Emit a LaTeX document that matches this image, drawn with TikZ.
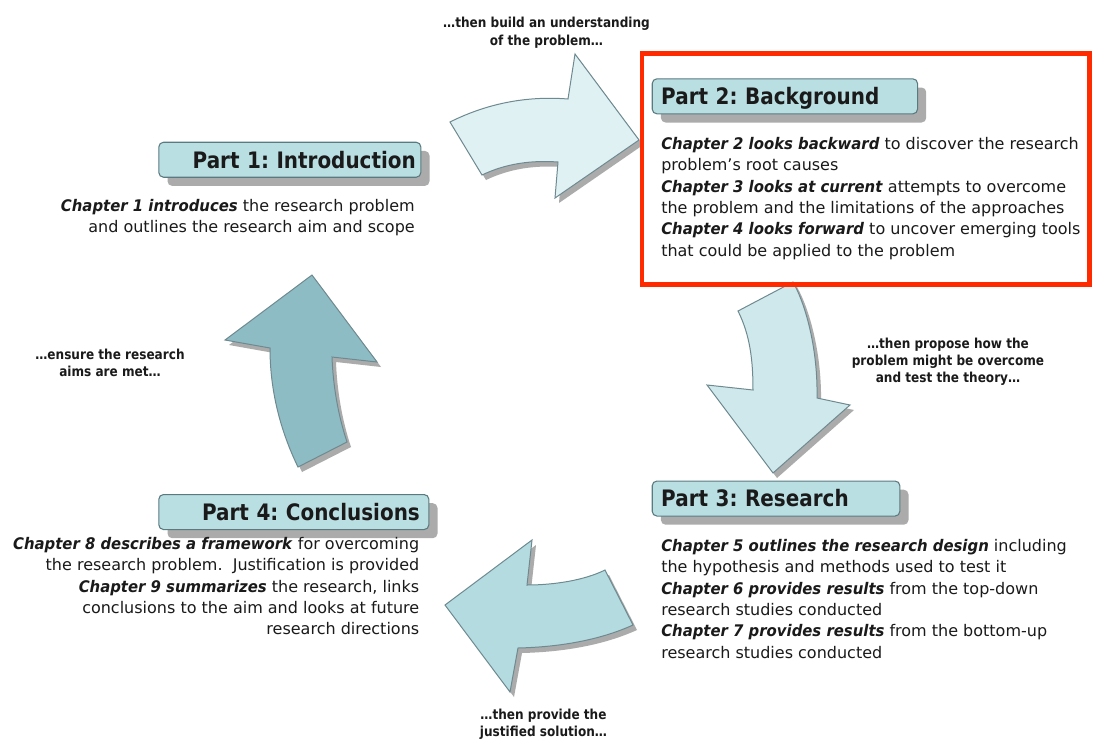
\documentclass[tikz,border=0pt]{standalone}
\usepackage{fontspec}
\setmainfont{DejaVu Sans}[BoldFeatures={FakeStretch=0.88},BoldItalicFeatures={FakeStretch=0.93}]
\usetikzlibrary{shadows}

\definecolor{boxfill}{HTML}{B9DFE3}
\definecolor{boxline}{HTML}{5A7A80}
\definecolor{arrline}{HTML}{6E8A90}
\definecolor{arrshade}{HTML}{ABABAB}
\definecolor{arrA}{HTML}{E0F1F4}
\definecolor{arrB}{HTML}{CFE8EC}
\definecolor{arrC}{HTML}{B3DBE0}
\definecolor{arrD}{HTML}{8EBCC4}
\definecolor{hilite}{HTML}{FF2A00}
\definecolor{ink}{HTML}{1A1A1A}

\newcommand{\chap}[1]{\textbf{\textit{#1}}}
\frenchspacing

\begin{document}
\begin{tikzpicture}[x=0.75pt,y=-0.75pt,
  partbox/.style={draw=boxline, fill=boxfill, line width=0.8pt, rounded corners=3.5pt,
    minimum height=26.25pt, inner ysep=0pt, text height=12.4pt, text depth=0pt,
    font=\fontsize{17}{20}\selectfont\bfseries, text=ink, anchor=north west,
    drop shadow={shadow xshift=6.5pt, shadow yshift=-6.5pt, fill=black!33, opacity=1}},
  bodytext/.style={inner sep=0pt, text=ink, font=\fontsize{12}{16}\selectfont},
  steplabel/.style={inner sep=0pt, text=ink, align=center, anchor=north,
    font=\fontsize{10.3}{13}\selectfont\bfseries},
  arrowbody/.style={draw=arrline, line width=0.75pt, line join=miter},
  arrowshadow/.style={fill=arrshade, shift={(4,5)}},
  % outlines of the four curved block arrows
  pathA/.style={insert path={(450,122) .. controls (490,102) and (530,96) .. (568,99)
    -- (575,54) -- (639,140) -- (555,198) -- (558,162)
    .. controls (530,160) and (505,164) .. (482,175) -- cycle}},
  pathB/.style={insert path={(738,311) -- (793,282) .. controls (806,305) and (818,350) .. (817,398)
    -- (850,405) -- (773,473) -- (707,385) -- (753,390)
    .. controls (753,360) and (750,335) .. (738,311) -- cycle}},
  pathC/.style={insert path={(605,570) -- (633,625) .. controls (600,640) and (560,647) .. (518,648)
    -- (510,692) -- (445,605) -- (532,540) -- (527,585)
    .. controls (555,585) and (585,580) .. (605,570) -- cycle}},
  pathD/.style={insert path={(312,275) -- (377,362) -- (332,357)
    .. controls (333,385) and (338,415) .. (347,442) -- (298,467)
    .. controls (280,430) and (270,390) .. (270,348) -- (225,340) -- cycle}}
]
\useasboundingbox[fill=white] (0,0) rectangle (1093,740);

% arrow shadows, then the arrows
\fill[arrowshadow, pathA];
\fill[arrowshadow, pathB];
\fill[arrowshadow, pathC];
\fill[arrowshadow, pathD];
\filldraw[arrowbody, fill=arrA, pathA];
\filldraw[arrowbody, fill=arrB, pathB];
\filldraw[arrowbody, fill=arrC, pathC];
\filldraw[arrowbody, fill=arrD, pathD];

% part headings
\node[partbox, inner xsep=3.75pt, text width=189pt, align=right] (p1) at (158.3,141.7) {Part 1: Introduction};
\node[partbox, inner xsep=6.75pt, text width=185.5pt, align=left] (p2) at (651.7,78.3) {Part 2: Background};
\node[partbox, inner xsep=6.75pt, text width=172.2pt, align=left] (p3) at (651.7,480.5) {Part 3: Research};
\node[partbox, inner xsep=6.75pt, text width=189pt, align=right] (p4) at (158.3,494) {Part 4: Conclusions};

% chapter descriptions
\node[bodytext, align=right, anchor=north east] (t1) at (415,199)
  {\chap{Chapter 1 introduces} the research problem\\
   and outlines the research aim and scope};
\node[bodytext, align=left, anchor=north west] (t2) at (661,137)
  {\chap{Chapter 2 looks backward} to discover the research\\
   problem's root causes\\
   \chap{Chapter 3 looks at current} attempts to overcome\\
   the problem and the limitations of the approaches\\
   \chap{Chapter 4 looks forward} to uncover emerging tools\\
   that could be applied to the problem};
\node[bodytext, align=left, anchor=north west] (t3) at (661,539)
  {\chap{Chapter 5 outlines the research design} including\\
   the hypothesis and methods used to test it\\
   \chap{Chapter 6 provides results} from the top-down\\
   research studies conducted\\
   \chap{Chapter 7 provides results} from the bottom-up\\
   research studies conducted};
\node[bodytext, align=right, anchor=north east] (t4) at (419.5,537)
  {\chap{Chapter 8 describes a framework} for overcoming\\
   the research problem.\ \ Justification is provided\\
   \chap{Chapter 9 summarizes} the research, links\hspace*{0.4em}\\
   conclusions to the aim and looks at future\hspace*{0.4em}\\
   research directions};

% transition labels
\node[steplabel] (l1) at (546.5,17) {\dots then build an understanding\\of the problem\dots};
\node[steplabel] (l2) at (948,337.5) {\dots then propose how the\\problem might be overcome\\and test the theory\dots};
\node[steplabel] (l3) at (110,348.5) {\dots ensure the research\\aims are met\dots};
\node[steplabel] (l4) at (543.5,708.5) {\dots then provide the\\justified solution\dots};

% highlight around the background part
\draw[hilite, line width=3.2pt] (642,53.5) rectangle (1089.5,284.5);
\end{tikzpicture}
\end{document}
